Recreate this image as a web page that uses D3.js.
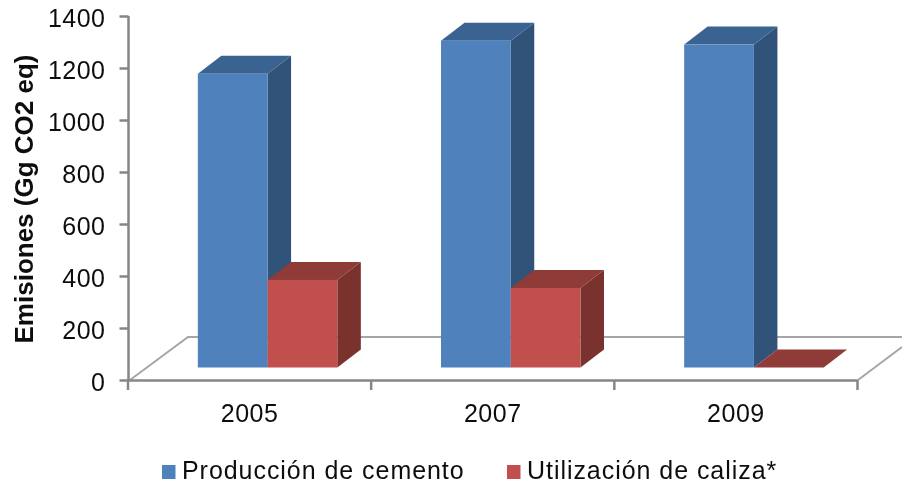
<!DOCTYPE html>
<html><head><meta charset="utf-8">
<script src="https://cdn.jsdelivr.net/npm/d3@7"></script>
<style>html,body{margin:0;padding:0;background:#fff;overflow:hidden}svg{display:block}text{font-family:"Liberation Sans",Arial,sans-serif;fill:#111}</style>
</head><body><svg id="c" width="902" height="484"></svg>
<script>
const years=["2005","2007","2009"];
const seriesNames=["Producción de cemento","Utilización de caliza*"];
const cemento=[1130,1257,1242];
const caliza=[337,306,0];
const yTicks=[0,200,400,600,800,1000,1200,1400];
const colors=[{front:"#4f81bd",top:"#3b6392",side:"#325379"},{front:"#c0504d",top:"#8f3b39",side:"#7a302e"}];

const svg=d3.select("#c");
const defs=svg.append("defs");
defs.append("filter").attr("id","soft").attr("filterUnits","userSpaceOnUse").attr("x",0).attr("y",0).attr("width",902).attr("height",484)
  .append("feGaussianBlur").attr("stdDeviation",0.55);
const g=svg.append("g").attr("filter","url(#soft)");

const x0=d3.scaleBand().domain(years).range([128,857.5]);
const x1=d3.scaleBand().domain([0,1]).range([0,139.5]);
const y=d3.scaleLinear().domain([0,1400]).range([380,16]);
const barDx=18, floorLift=12.5, depthX=23.5, depthY=18;

// floor
const grey="#868686";
g.append("path").attr("fill","none").attr("stroke","#a6a6a6").attr("stroke-width",2)
 .attr("d",d3.line()([[130,380],[188,337],[902,337]]));
g.append("path").attr("fill","none").attr("stroke","#a6a6a6").attr("stroke-width",2)
 .attr("d",d3.line()([[858,380],[902,347]]));

// axes
const yAxis=d3.axisLeft(y).tickValues(yTicks).tickSize(9).tickPadding(14).tickFormat(d3.format("d"));
const ya=g.append("g").attr("transform","translate(128.5,0)").call(yAxis);
const xAxis=d3.axisBottom(x0).tickSize(0).tickPadding(24);
const xa=g.append("g").attr("transform","translate(0,380.5)").call(xAxis);
g.append("g").selectAll("line").data(d3.range(4)).join("line")
 .attr("x1",i=>128+i*x0.step()).attr("x2",i=>128+i*x0.step()).attr("y1",380).attr("y2",390)
 .attr("stroke",grey).attr("stroke-width",2.5);
[ya,xa].forEach(a=>{a.selectAll("path").attr("stroke",grey).attr("stroke-width",2.5);a.selectAll("line").attr("stroke",grey).attr("stroke-width",2.5);
  a.selectAll("text").attr("font-size",25).attr("letter-spacing",0.5).style("font-family",'"Liberation Sans",Arial,sans-serif').attr("fill","#111");});
ya.selectAll("text").attr("dy","0.42em");
xa.select("path").attr("d","M128,0H857.5");
ya.select("path").attr("d","M0,16V380");

// bars
const series=[cemento,caliza];
years.forEach((yr,i)=>{
  [0,1].forEach(s=>{
    const v=series[s][i], c=colors[s];
    const l=x0(yr)+x0.bandwidth()/2+barDx-69.75+x1(s), w=x1.bandwidth();
    const r=l+w, t=y(v)-floorLift, b=y(0)-floorLift;
    const bar=g.append("g");
    bar.append("path").attr("fill",c.side).attr("d",d3.line()([[r,t],[r+depthX,t-depthY],[r+depthX,b-depthY],[r,b]]));
    bar.append("path").attr("fill",c.top).attr("d",d3.line()([[l,t],[l+depthX,t-depthY],[r+depthX,t-depthY],[r,t]]));
    bar.append("rect").attr("x",l).attr("y",t).attr("width",w).attr("height",b-t).attr("fill",c.front);
  });
});

// y title
g.append("text").attr("transform","translate(33,199) rotate(-90)").attr("text-anchor","middle")
 .attr("font-size",26).attr("font-weight","bold").text("Emisiones (Gg CO2 eq)");

// legend
const legendX=[162,507];
seriesNames.forEach((n,i)=>{
  g.append("rect").attr("x",legendX[i]).attr("y",465).attr("width",13.5).attr("height",14).attr("fill",colors[i].front);
  g.append("text").attr("x",legendX[i]+20).attr("y",478.6).attr("font-size",25).attr("letter-spacing",0.95).text(n);
});
</script></body></html>
